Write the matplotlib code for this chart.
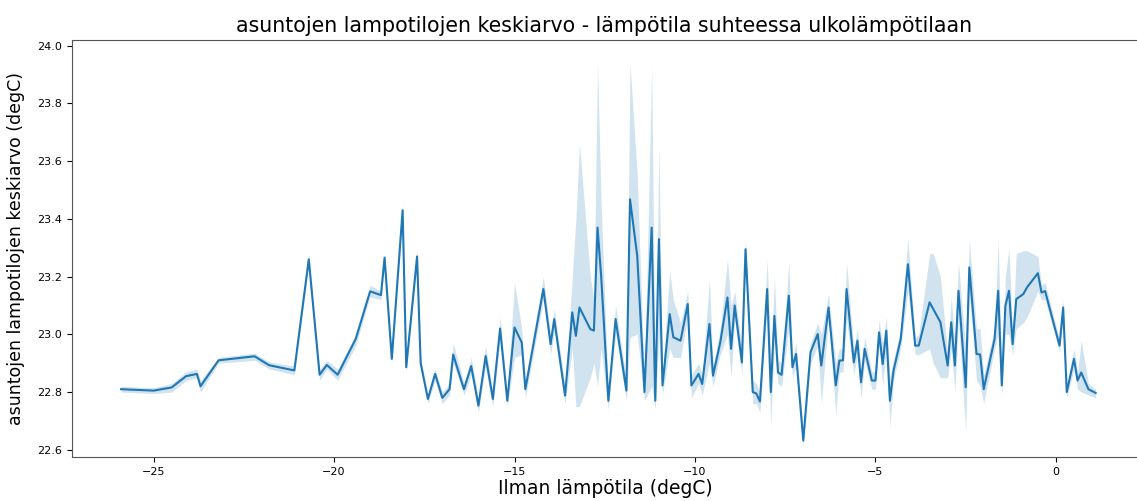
import numpy as np
import matplotlib
matplotlib.use("Agg")
import matplotlib.pyplot as plt

# outdoor temperature (degC) and mean indoor temperature with its CI band
ulko = [-25.9, -25.0, -24.5, -24.1, -23.8, -23.7, -23.2, -22.2, -21.8, -21.1,
        -20.7, -20.4, -20.2, -19.9, -19.4, -19.0, -18.7, -18.6, -18.4, -18.1,
        -18.0, -17.7, -17.6, -17.4, -17.2, -17.0, -16.8, -16.7, -16.4, -16.2,
        -16.0, -15.8, -15.6, -15.4, -15.2, -15.0, -14.8, -14.7, -14.2, -14.0,
        -13.9, -13.6, -13.4, -13.3, -13.2, -12.9, -12.8, -12.7, -12.6, -12.4,
        -12.2, -11.9, -11.8, -11.6, -11.4, -11.2, -11.1, -11.0, -10.9, -10.7,
        -10.6, -10.4, -10.2, -10.1, -9.9, -9.8, -9.6, -9.5, -9.3, -9.1,
        -9.0, -8.9, -8.7, -8.6, -8.4, -8.3, -8.2, -8.0, -7.9, -7.8,
        -7.7, -7.6, -7.4, -7.3, -7.2, -7.0, -6.8, -6.6, -6.5, -6.3,
        -6.1, -6.0, -5.9, -5.8, -5.6, -5.5, -5.4, -5.3, -5.1, -5.0,
        -4.9, -4.8, -4.7, -4.6, -4.5, -4.3, -4.1, -3.9, -3.8, -3.5,
        -3.4, -3.2, -3.0, -2.9, -2.8, -2.7, -2.5, -2.4, -2.2, -2.1,
        -2.0, -1.7, -1.6, -1.5, -1.4, -1.3, -1.2, -1.1, -0.9, -0.8,
        -0.5, -0.4, -0.3, 0.1, 0.2, 0.3, 0.5, 0.6, 0.7, 0.9,
        1.1]

keskiarvo = [22.81, 22.805, 22.816, 22.855, 22.863, 22.82, 22.91, 22.924, 22.893, 22.875,
             23.26, 22.86, 22.894, 22.86, 22.984, 23.149, 23.136, 23.266, 22.915, 23.43,
             22.886, 23.27, 22.90, 22.776, 22.863, 22.78, 22.81, 22.93, 22.81, 22.89,
             22.753, 22.925, 22.776, 23.02, 22.77, 23.024, 22.972, 22.81, 23.157, 22.966,
             23.053, 22.788, 23.076, 22.995, 23.093, 23.018, 23.013, 23.37, 23.203, 22.77,
             23.053, 22.805, 23.468, 23.272, 22.80, 23.37, 22.77, 23.33, 22.823, 23.07,
             22.99, 22.978, 23.105, 22.823, 22.863, 22.828, 23.036, 22.857, 22.972, 23.128,
             22.95, 23.10, 22.903, 23.295, 22.80, 22.795, 22.767, 23.157, 22.80, 23.064,
             22.868, 22.86, 23.134, 22.886, 22.932, 22.632, 22.938, 23.001, 22.892, 23.093,
             22.823, 22.909, 22.91, 23.157, 22.903, 22.978, 22.834, 22.95, 22.84, 22.84,
             23.007, 22.897, 23.013, 22.77, 22.874, 22.984, 23.243, 22.961, 22.961, 23.111,
             23.088, 23.042, 22.892, 23.042, 22.892, 23.151, 22.817, 23.232, 22.932, 22.93,
             22.81, 22.984, 23.151, 22.823, 23.10, 23.151, 22.966, 23.122, 23.14, 23.163,
             23.212, 23.145, 23.15, 22.961, 23.093, 22.80, 22.915, 22.84, 22.868, 22.81,
             22.797]

ci_ala = [22.80, 22.795, 22.80, 22.84, 22.85, 22.80, 22.90, 22.91, 22.88, 22.86,
          23.24, 22.84, 22.88, 22.84, 22.96, 23.13, 23.12, 23.25, 22.90, 23.41,
          22.87, 23.25, 22.88, 22.76, 22.84, 22.76, 22.79, 22.90, 22.79, 22.86,
          22.73, 22.89, 22.75, 22.98, 22.75, 22.92, 22.93, 22.78, 23.12, 22.93,
          23.01, 22.76, 22.95, 22.75, 22.75, 22.85, 22.90, 22.82, 22.95, 22.74,
          23.00, 22.77, 22.99, 23.00, 22.77, 22.82, 22.74, 23.00, 22.79, 22.95,
          22.92, 22.92, 23.06, 22.78, 22.83, 22.79, 22.90, 22.82, 22.93, 23.00,
          22.85, 23.05, 22.86, 23.26, 22.76, 22.76, 22.73, 23.10, 22.68, 22.98,
          22.83, 22.82, 23.02, 22.85, 22.89, 22.61, 22.90, 22.96, 22.76, 23.05,
          22.72, 22.87, 22.87, 23.05, 22.86, 22.93, 22.78, 22.91, 22.81, 22.81,
          22.96, 22.82, 22.95, 22.68, 22.84, 22.95, 23.15, 22.93, 22.93, 22.95,
          22.90, 22.85, 22.85, 22.95, 22.80, 23.05, 22.66, 23.14, 22.84, 22.82,
          22.76, 22.95, 23.00, 22.79, 23.00, 23.00, 22.93, 23.02, 23.04, 23.06,
          23.15, 23.12, 23.12, 22.94, 23.06, 22.78, 22.88, 22.81, 22.80, 22.79,
          22.78]

ci_yla = [22.82, 22.815, 22.83, 22.87, 22.88, 22.84, 22.92, 22.935, 22.905, 22.89,
          23.28, 22.88, 22.91, 22.88, 23.00, 23.17, 23.15, 23.28, 22.93, 23.45,
          22.90, 23.29, 22.92, 22.79, 22.88, 22.80, 22.83, 22.97, 22.83, 22.92,
          22.78, 22.96, 22.80, 23.06, 22.79, 23.18, 23.02, 22.84, 23.20, 23.00,
          23.09, 22.82, 23.20, 23.40, 23.66, 23.20, 23.12, 23.94, 23.45, 22.80,
          23.10, 22.84, 23.94, 23.55, 22.83, 23.93, 22.80, 23.66, 22.86, 23.22,
          23.12, 23.04, 23.15, 22.86, 22.90, 22.86, 23.19, 22.89, 23.02, 23.26,
          23.10, 23.15, 22.95, 23.33, 22.84, 22.83, 22.80, 23.26, 22.90, 23.20,
          22.91, 22.90, 23.25, 22.92, 22.97, 22.66, 22.97, 23.04, 23.00, 23.14,
          22.90, 22.95, 22.95, 23.25, 22.95, 23.02, 22.88, 22.99, 22.87, 22.87,
          23.05, 22.97, 23.06, 22.85, 22.91, 23.02, 23.33, 22.99, 23.00, 23.28,
          23.28, 23.20, 22.93, 23.13, 22.98, 23.25, 22.95, 23.33, 23.02, 23.02,
          22.86, 23.02, 23.33, 22.86, 23.20, 23.30, 23.00, 23.28, 23.29, 23.29,
          23.27, 23.17, 23.18, 22.98, 23.12, 22.82, 22.95, 22.87, 22.98, 22.83,
          22.81]

fig = plt.figure(figsize=(11.37, 5.01), dpi=100)
# right edge of the axes sits just past the picture, as in the cropped original
ax = fig.add_axes([72 / 1137, 44 / 501, 1072 / 1137, 417 / 501])

ax.fill_between(ulko, ci_ala, ci_yla, color='#1f77b4', alpha=0.2, linewidth=0)
ax.plot(ulko, keskiarvo, color='#1f77b4', linewidth=1.5)

ax.set_xlim(-27.26, 2.44)
ax.set_ylim(22.575, 24.02)
ax.set_xticks([-25, -20, -15, -10, -5, 0])
ax.set_yticks(np.arange(22.6, 24.01, 0.2))
ax.yaxis.set_major_formatter(matplotlib.ticker.FormatStrFormatter('%.1f'))
ax.tick_params(labelsize=8)

for s in ax.spines.values():
    s.set_color('#555555')

ax.set_title('asuntojen lampotilojen keskiarvo - lämpötila suhteessa ulkolämpötilaan',
             fontsize=14.8, x=(604 - 72) / 1072)
ax.set_xlabel('Ilman lämpötila (degC)', fontsize=13.5, va='center')
ax.xaxis.set_label_coords((605 - 72) / 1072, -0.075)
ax.set_ylabel('asuntojen lampotilojen keskiarvo (degC)', fontsize=12.5, labelpad=9)

fig.savefig('out.png', dpi=100)
